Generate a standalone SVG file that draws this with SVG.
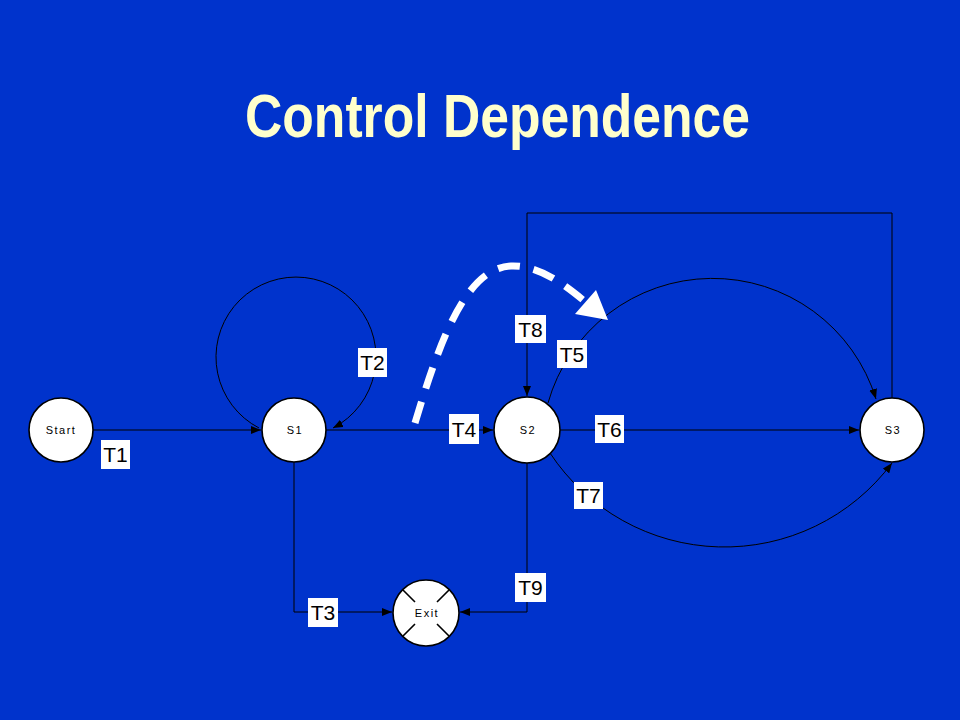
<svg xmlns="http://www.w3.org/2000/svg" width="960" height="720" viewBox="0 0 960 720">
<defs>
<marker id="ah" viewBox="0 0 10 8" refX="10" refY="4" markerWidth="10" markerHeight="8" markerUnits="userSpaceOnUse" orient="auto">
<path d="M0,0 L10,4 L0,8 Z" fill="#000"/>
</marker>
<style>
.bg{fill:#0033CC}
.title{font-family:"Liberation Sans",Arial,sans-serif;font-weight:bold;font-size:62px;fill:#FFFFCC}
.node{fill:#fff;stroke:#000;stroke-width:1.6}
.nlab{font-family:"Liberation Sans",Arial,sans-serif;font-size:11px;fill:#000;text-anchor:middle;letter-spacing:1.5px}
.edge{fill:none;stroke:#000;stroke-width:1}
.arr{marker-end:url(#ah)}
.lbox{fill:#fff}
.ltext{font-family:"Liberation Sans",Arial,sans-serif;font-size:21px;fill:#000;text-anchor:middle}
.dash{fill:none;stroke:#fff;stroke-width:7;stroke-dasharray:22 14}
</style>
</defs>
<rect class="bg" x="0" y="0" width="960" height="720"/>
<text class="title" x="245" y="137" textLength="505" lengthAdjust="spacingAndGlyphs">Control Dependence</text>

<g id="connectors">
<path id="e-T1" class="edge arr" d="M93,430 L261,430"/>
<path id="e-T2" class="edge arr" d="M259,428 A80,80 0 1 1 333,428"/>
<path id="e-T4" class="edge arr" d="M326,430 L493,430"/>
<path id="e-T3" class="edge arr" d="M294,462 L294,612 L392,612"/>
<path id="e-T9" class="edge arr" d="M527,463 L527,612 L460,612"/>
<path id="e-T6" class="edge arr" d="M560,430 L859,430"/>
<path id="e-T5" class="edge arr" d="M548,403 A171,171 0 0 1 876,399"/>
<path id="e-T7" class="edge arr" d="M550,453 A209,209 0 0 0 892,463"/>
<path id="e-T8" class="edge arr" d="M892,398 L892,213 L527,213 L527,396"/>
</g>

<g id="labels">
<g id="l-T1"><rect class="lbox" x="101" y="440" width="29" height="29"/><text class="ltext" x="115.5" y="462">T1</text></g>
<g id="l-T2"><rect class="lbox" x="358" y="348" width="29" height="29"/><text class="ltext" x="372.5" y="370">T2</text></g>
<g id="l-T3"><rect class="lbox" x="308" y="598" width="30" height="29"/><text class="ltext" x="323" y="620">T3</text></g>
<g id="l-T4"><rect class="lbox" x="449" y="414" width="30" height="30"/><text class="ltext" x="464" y="437">T4</text></g>
<g id="l-T5"><rect class="lbox" x="557" y="340" width="30" height="28"/><text class="ltext" x="572" y="362">T5</text></g>
<g id="l-T6"><rect class="lbox" x="595" y="415" width="29" height="28"/><text class="ltext" x="609.5" y="437">T6</text></g>
<g id="l-T7"><rect class="lbox" x="574" y="482" width="29" height="27"/><text class="ltext" x="588.5" y="503">T7</text></g>
<g id="l-T8"><rect class="lbox" x="515" y="315" width="31" height="28"/><text class="ltext" x="530.5" y="337">T8</text></g>
<g id="l-T9"><rect class="lbox" x="515" y="573" width="31" height="29"/><text class="ltext" x="530.5" y="595">T9</text></g>
</g>

<g id="n-start"><circle class="node" cx="61" cy="430" r="32"/><text class="nlab" x="61" y="434">Start</text></g>
<g id="n-s1"><circle class="node" cx="294" cy="430" r="32"/><text class="nlab" x="295" y="434">S1</text></g>
<g id="n-s2"><circle class="node" cx="527" cy="430" r="33"/><text class="nlab" x="528" y="434">S2</text></g>
<g id="n-s3"><circle class="node" cx="892" cy="430" r="32"/><text class="nlab" x="893" y="434">S3</text></g>
<g id="n-exit"><circle class="node" cx="426" cy="613" r="33"/>
<path d="M403,590 L415,602 M449,590 L437,602 M403,636 L415,624 M449,636 L437,624" stroke="#000" stroke-width="1.6" fill="none"/>
<text class="nlab" x="427" y="617">Exit</text></g>

<g id="dep-arrow">
<path class="dash" d="M415,423 C440,340 466,268 511,266 C540,265 565,285 588,304"/>
<polygon points="608,320 575,314 596,290" fill="#fff"/>
</g>
</svg>
